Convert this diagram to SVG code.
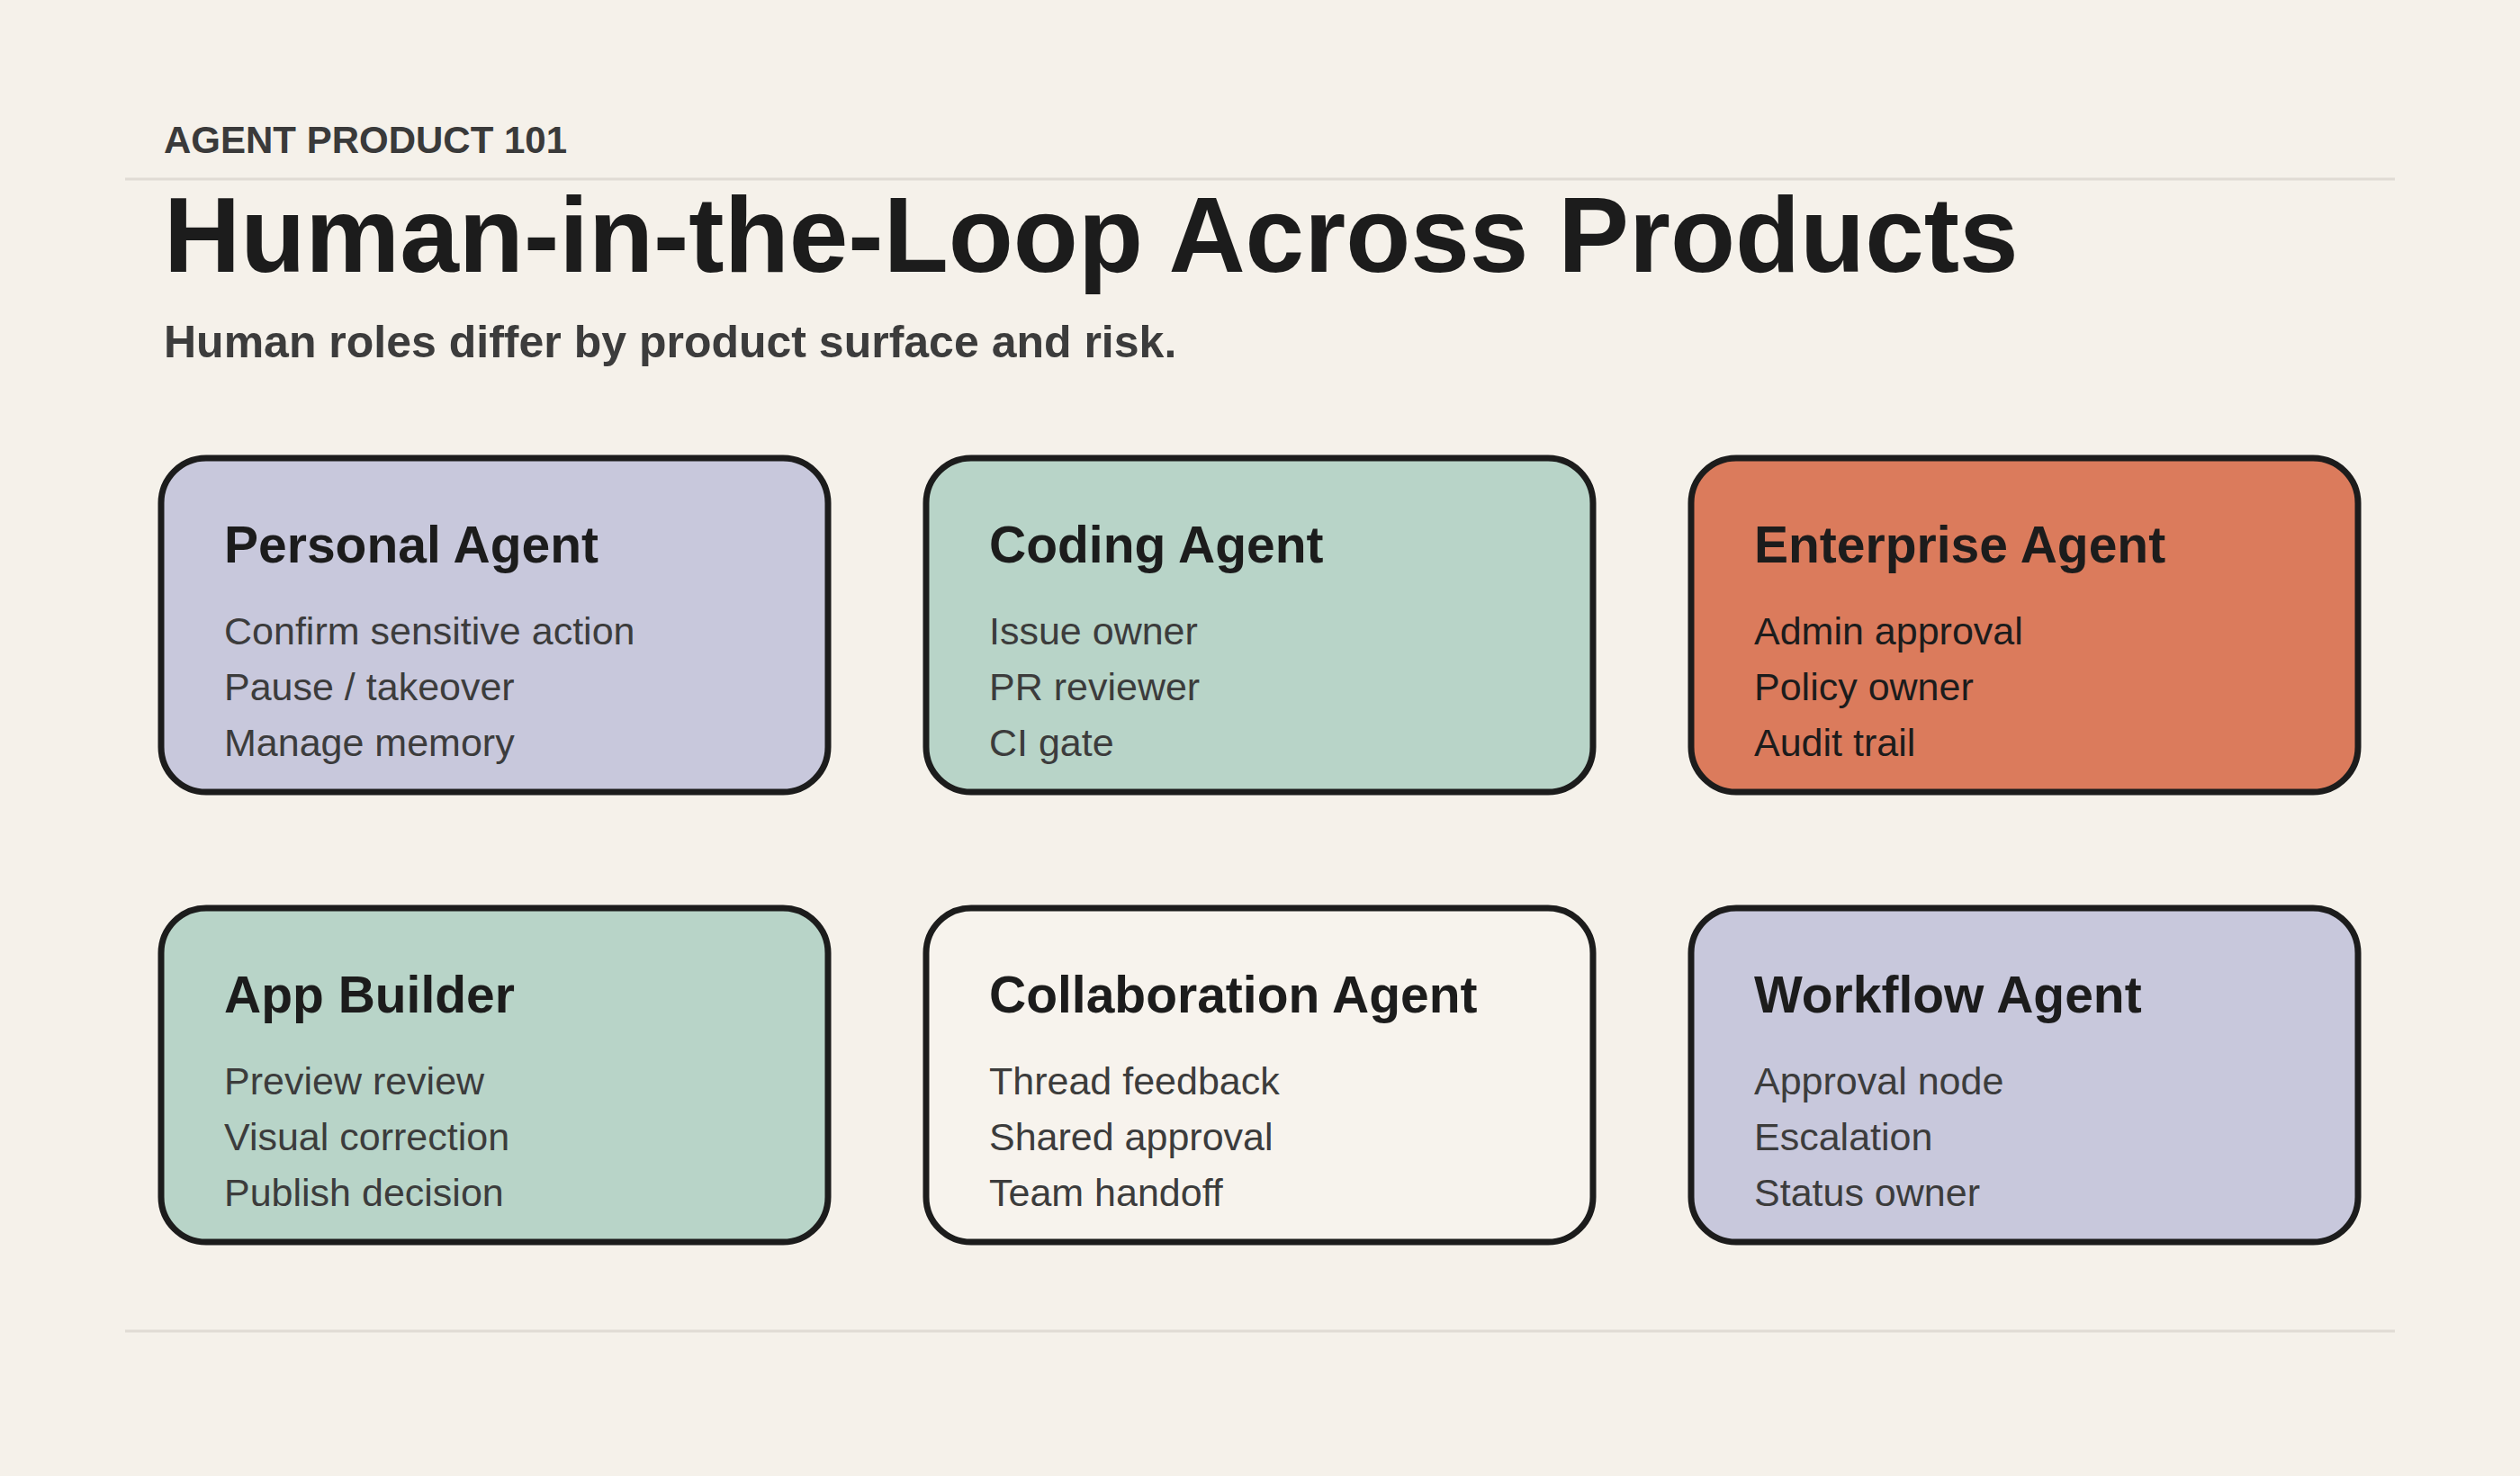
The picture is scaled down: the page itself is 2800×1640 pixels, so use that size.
<svg xmlns="http://www.w3.org/2000/svg" width="2800" height="1640" viewBox="0 0 2800 1640">
<style>
text{font-family:"Liberation Sans",Arial,sans-serif}
.card{stroke:#1c1c1c;stroke-width:7}
.t{font-size:57px;font-weight:bold;fill:#1c1c1c}
.i{font-size:43px;fill:#3c3c3c}
.rule{stroke:#e0dbd4;stroke-width:3}
</style>
<rect width="2800" height="1640" fill="#f5f1ea"/>
<text x="182" y="170" font-size="42" font-weight="bold" fill="#3a3a3a">AGENT PRODUCT 101</text>
<line class="rule" x1="139" y1="199" x2="2661" y2="199"/>
<text x="182" y="302" font-size="118" font-weight="bold" fill="#1c1c1c">Human-in-the-Loop Across Products</text>
<text x="182" y="397" font-size="50" font-weight="bold" fill="#3c3c3c">Human roles differ by product surface and risk.</text>
<g id="personal"><rect class="card" x="179" y="509" width="741" height="371" rx="50" fill="#c8c8dc"/>
<text class="t" x="249" y="625">Personal Agent</text>
<text class="i" x="249" y="716">Confirm sensitive action</text><text class="i" x="249" y="778">Pause / takeover</text><text class="i" x="249" y="840">Manage memory</text></g>
<g id="coding"><rect class="card" x="1029" y="509" width="741" height="371" rx="50" fill="#b8d4c8"/>
<text class="t" x="1099" y="625">Coding Agent</text>
<text class="i" x="1099" y="716">Issue owner</text><text class="i" x="1099" y="778">PR reviewer</text><text class="i" x="1099" y="840">CI gate</text></g>
<g id="enterprise"><rect class="card" x="1879" y="509" width="741" height="371" rx="50" fill="#db7b5c"/>
<text class="t" x="1949" y="625">Enterprise Agent</text>
<text class="i" x="1949" y="716" fill="#1c1c1c" style="fill:#1c1c1c">Admin approval</text><text class="i" x="1949" y="778" style="fill:#1c1c1c">Policy owner</text><text class="i" x="1949" y="840" style="fill:#1c1c1c">Audit trail</text></g>
<g id="app"><rect class="card" x="179" y="1009" width="741" height="371" rx="50" fill="#b8d4c8"/>
<text class="t" x="249" y="1125">App Builder</text>
<text class="i" x="249" y="1216">Preview review</text><text class="i" x="249" y="1278">Visual correction</text><text class="i" x="249" y="1340">Publish decision</text></g>
<g id="collab"><rect class="card" x="1029" y="1009" width="741" height="371" rx="50" fill="#f7f3ed"/>
<text class="t" x="1099" y="1125">Collaboration Agent</text>
<text class="i" x="1099" y="1216">Thread feedback</text><text class="i" x="1099" y="1278">Shared approval</text><text class="i" x="1099" y="1340">Team handoff</text></g>
<g id="workflow"><rect class="card" x="1879" y="1009" width="741" height="371" rx="50" fill="#c8c8dc"/>
<text class="t" x="1949" y="1125">Workflow Agent</text>
<text class="i" x="1949" y="1216">Approval node</text><text class="i" x="1949" y="1278">Escalation</text><text class="i" x="1949" y="1340">Status owner</text></g>
<g id="connectors"></g>
<line class="rule" x1="139" y1="1479" x2="2661" y2="1479"/>
</svg>
